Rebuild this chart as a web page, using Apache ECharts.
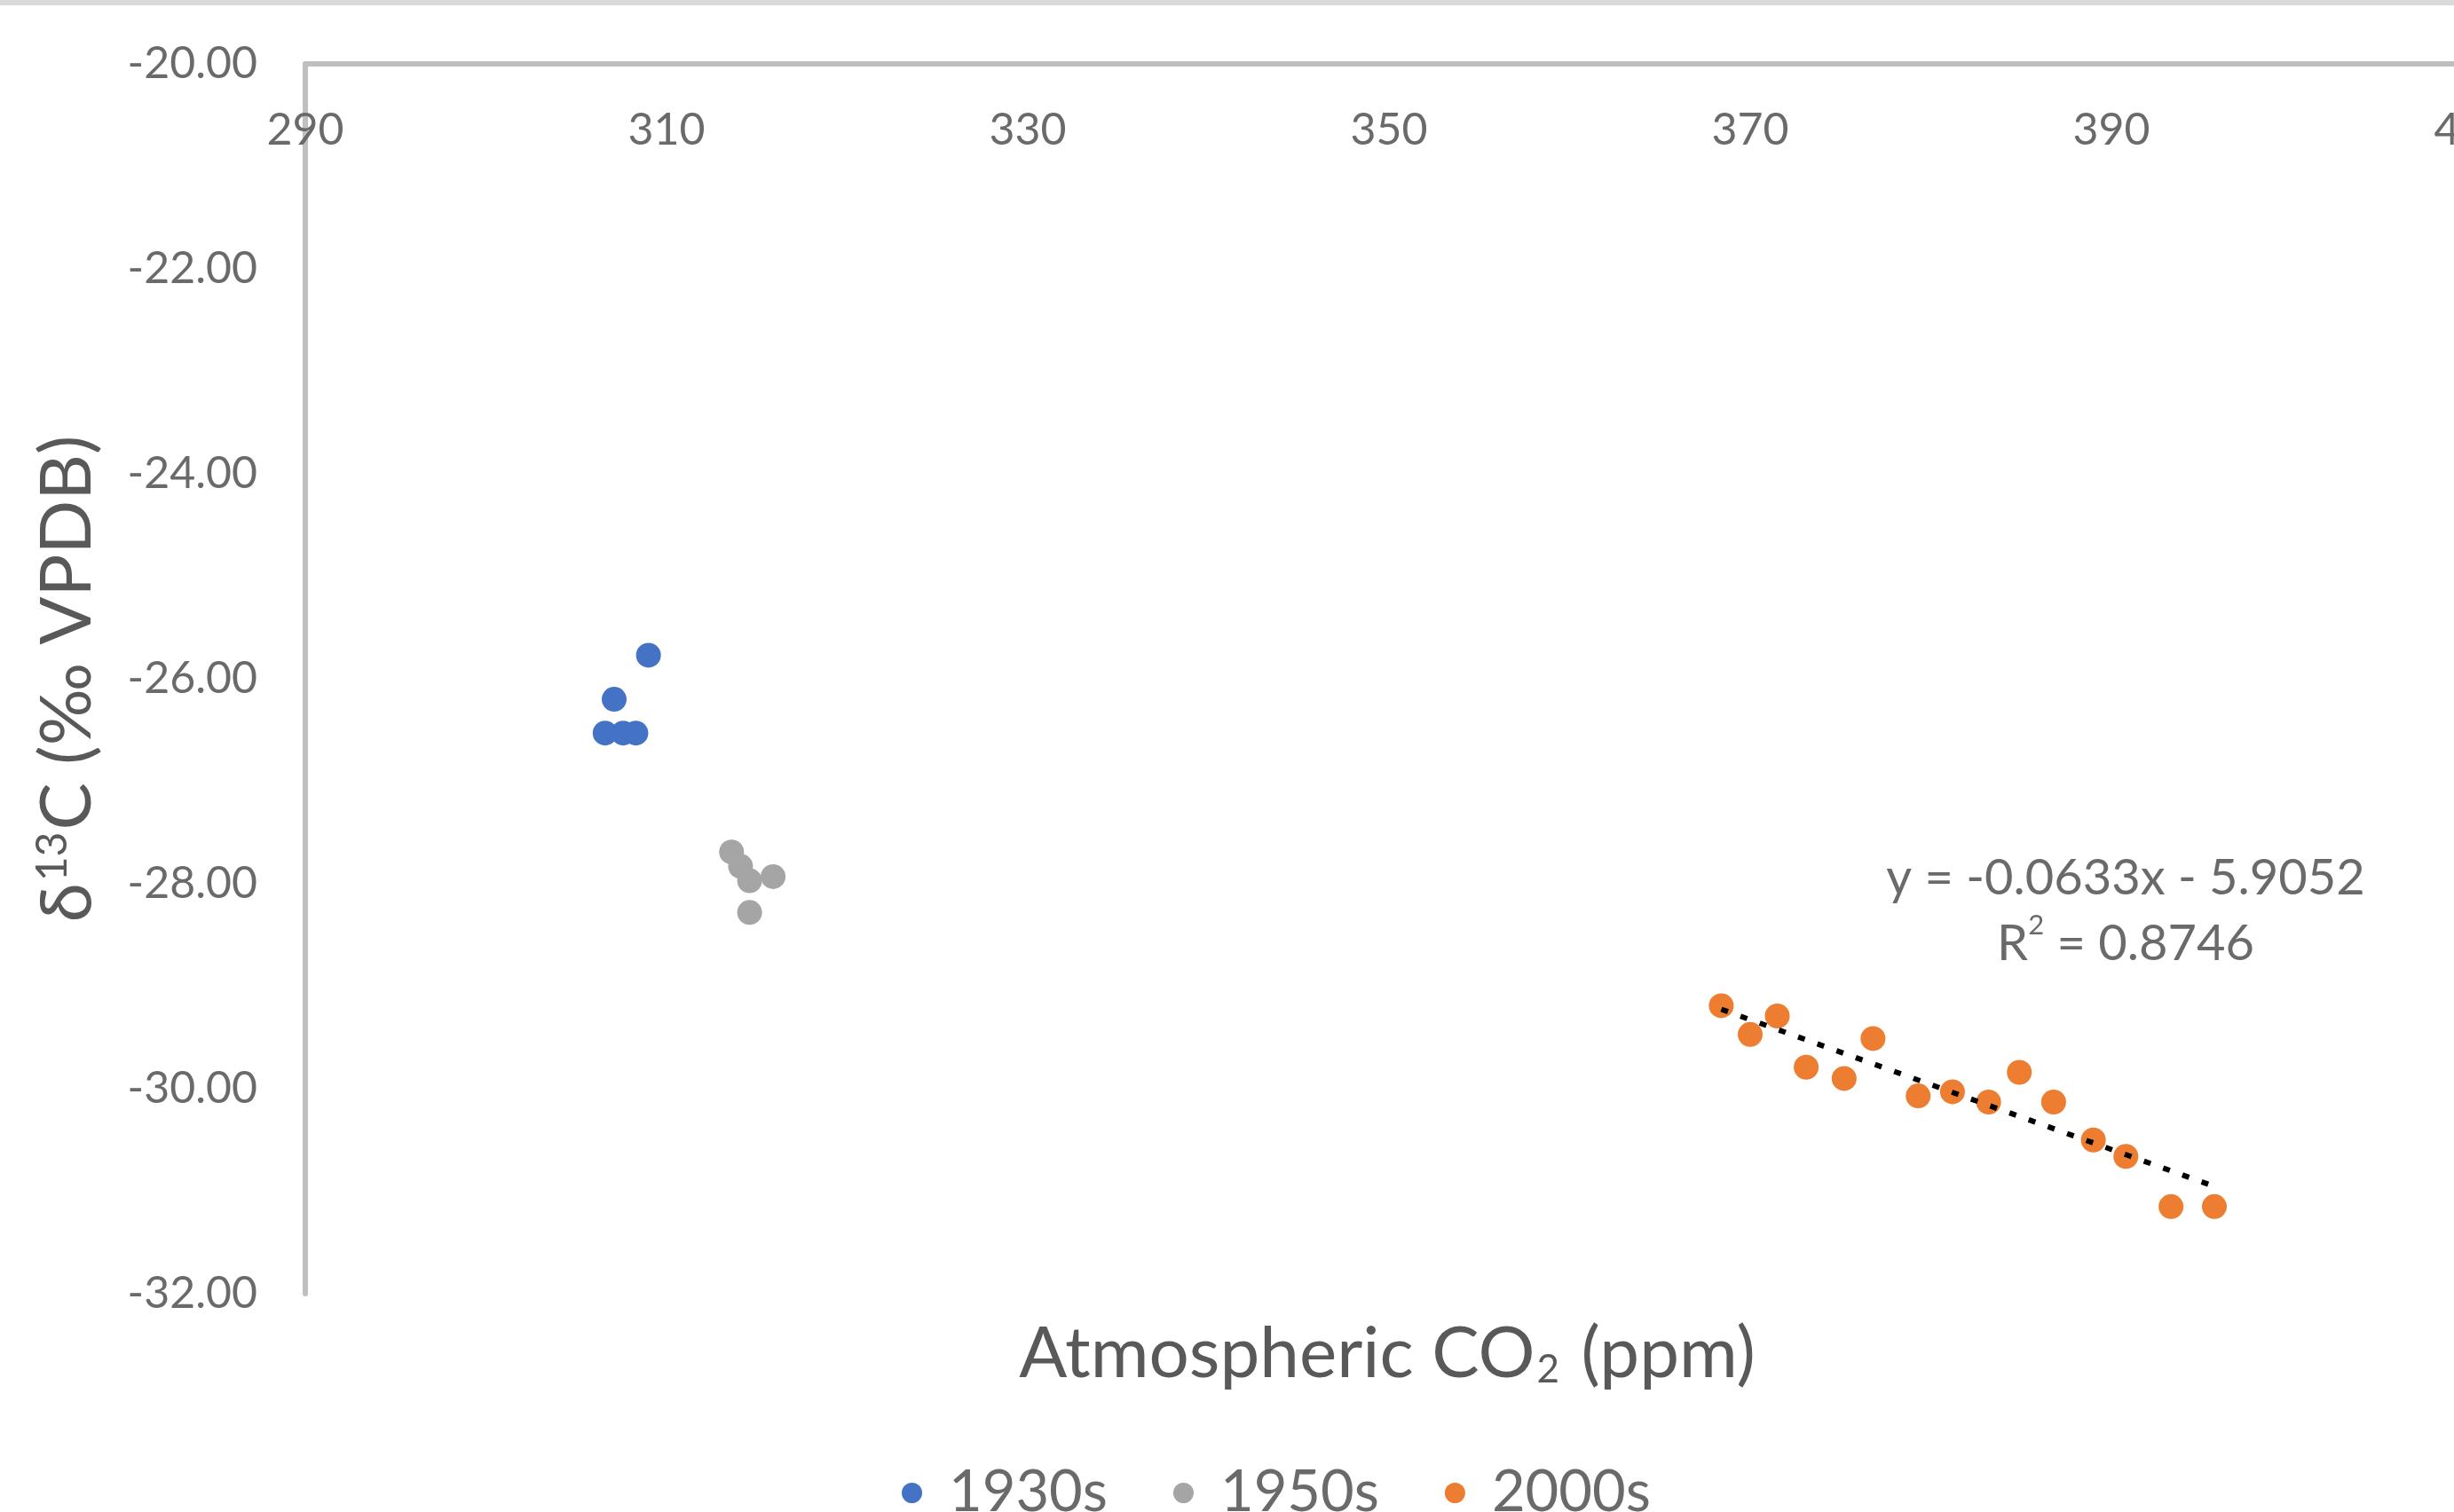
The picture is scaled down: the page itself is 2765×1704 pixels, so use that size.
<!DOCTYPE html>
<html><head><meta charset="utf-8">
<script src="https://cdn.jsdelivr.net/npm/echarts@6/dist/echarts.min.js"></script>
<style>
html,body{margin:0;padding:0;background:#fff;}
#c{position:absolute;left:0;top:0;width:2765px;height:1704px;}
#bar{position:absolute;left:0;top:0;width:2765px;height:6px;background:#d9d9d9;z-index:10;}
</style>
</head><body>
<div id="c"></div><div id="bar"></div>
<script>
// ---- data ----
const xTickMin = 290, xTickMax = 410, xTickStep = 20;
const yTickMin = -32, yTickMax = -20, yTickStep = 2;

const seriesNames = ['1930s', '1950s', '2000s'];

const co2_1930s  = [309.0, 307.1, 306.6, 307.6, 308.3];
const d13c_1930s = [-25.77, -26.20, -26.53, -26.53, -26.53];

const co2_1950s  = [313.6, 314.1, 314.6, 315.9, 314.6];
const d13c_1950s = [-27.69, -27.83, -27.97, -27.93, -28.28];

const co2_2000s  = [368.4, 370.0, 371.5, 373.1, 375.2, 376.8, 379.3, 381.2, 383.2, 384.9, 386.8, 389.0, 390.8, 393.3, 395.7];
const d13c_2000s = [-29.19, -29.47, -29.29, -29.79, -29.90, -29.51, -30.07, -30.03, -30.13, -29.84, -30.13, -30.50, -30.66, -31.15, -31.15];

const trendSlope = -0.0633;
const trendIntercept = -5.9052;
const trendR2 = 0.8746;

// ---- build ----
const zip = (xs, ys) => xs.map((x, i) => [x, ys[i]]);
const tx0 = Math.min(...co2_2000s), tx1 = Math.max(...co2_2000s);
const trendData = [[tx0, trendSlope * tx0 + trendIntercept], [tx1, trendSlope * tx1 + trendIntercept]];

const FONT = 'Lato';
const labelColor = '#6a6a6a';
const titleColor = '#595959';
const axisColor = '#bfbfbf';
const colors = ['#4472C4', '#A5A5A5', '#ED7D31'];

const chart = echarts.init(document.getElementById('c'), null, {renderer: 'canvas'});
chart.setOption({
  animation: false,
  backgroundColor: '#ffffff',
  title: [
    {
      text: 'Atmospheric CO{sub|2} (ppm)',
      left: 1563, top: 1486, textAlign: 'center', padding: 0,
      textStyle: {
        fontFamily: FONT, fontSize: 80, fontWeight: 'normal', color: titleColor,
        rich: { sub: { fontFamily: FONT, fontSize: 44, color: titleColor, verticalAlign: 'bottom', padding: [0, 4, 0, 2] } }
      }
    },
    {
      text: 'y = ' + trendSlope + 'x - ' + Math.abs(trendIntercept) + '\nR{sup|2} = ' + trendR2,
      left: 2395, top: 953, textAlign: 'center', padding: 0,
      textStyle: {
        fontFamily: FONT, fontSize: 56, fontWeight: 'normal', color: labelColor, lineHeight: 74,
        rich: { sup: { fontFamily: FONT, fontSize: 31, color: labelColor, verticalAlign: 'top', lineHeight: 58 } }
      }
    }
  ],
  legend: {
    data: seriesNames,
    left: 1011, top: 1645,
    icon: 'circle', itemWidth: 23, itemHeight: 23, itemGap: 74,
    textStyle: { fontFamily: FONT, fontSize: 65, color: labelColor, padding: [0, 0, 0, 25] }
  },
  grid: { left: 344, top: 72, width: 2442, height: 1386, containLabel: false, outerBoundsMode: 'none' },
  xAxis: {
    type: 'value', position: 'top',
    min: xTickMin, max: xTickMax, interval: xTickStep,
    axisLine: { show: true, onZero: false, lineStyle: { color: axisColor, width: 6 } },
    axisTick: { show: false },
    splitLine: { show: false },
    axisLabel: { inside: true, margin: 50, fontFamily: FONT, fontSize: 50, color: labelColor }
  },
  yAxis: {
    type: 'value',
    min: yTickMin, max: yTickMax, interval: yTickStep,
    axisLine: { show: true, onZero: false, lineStyle: { color: axisColor, width: 6 } },
    axisTick: { show: false },
    splitLine: { show: false },
    axisLabel: { margin: 54, fontFamily: FONT, fontSize: 50, color: labelColor, formatter: v => v.toFixed(2) },
    name: '{m|δ}{sup|13}{m|C (‰ VPDB)}',
    nameLocation: 'middle', nameRotate: 90, nameGap: 228,
    nameTextStyle: {
      fontFamily: FONT, fontSize: 80, color: titleColor,
      rich: {
        m: { fontFamily: FONT, fontSize: 80, color: titleColor },
        sup: { fontFamily: FONT, fontSize: 48, color: titleColor, verticalAlign: 'top', padding: [0, 2, 0, 2] }
      }
    }
  },
  series: [
    { name: seriesNames[0], type: 'scatter', data: zip(co2_1930s, d13c_1930s), symbol: 'circle', symbolSize: 28, itemStyle: { color: colors[0], opacity: 1 }, z: 3 },
    { name: seriesNames[1], type: 'scatter', data: zip(co2_1950s, d13c_1950s), symbol: 'circle', symbolSize: 28, itemStyle: { color: colors[1], opacity: 1 }, z: 3 },
    { name: seriesNames[2], type: 'scatter', data: zip(co2_2000s, d13c_2000s), symbol: 'circle', symbolSize: 28, itemStyle: { color: colors[2], opacity: 1 }, z: 3 },
    { name: 'trend', type: 'line', data: trendData, symbol: 'none', silent: true, z: 5,
      lineStyle: { color: '#000000', width: 6, type: [8, 15] } }
  ]
});
</script>
</body></html>
